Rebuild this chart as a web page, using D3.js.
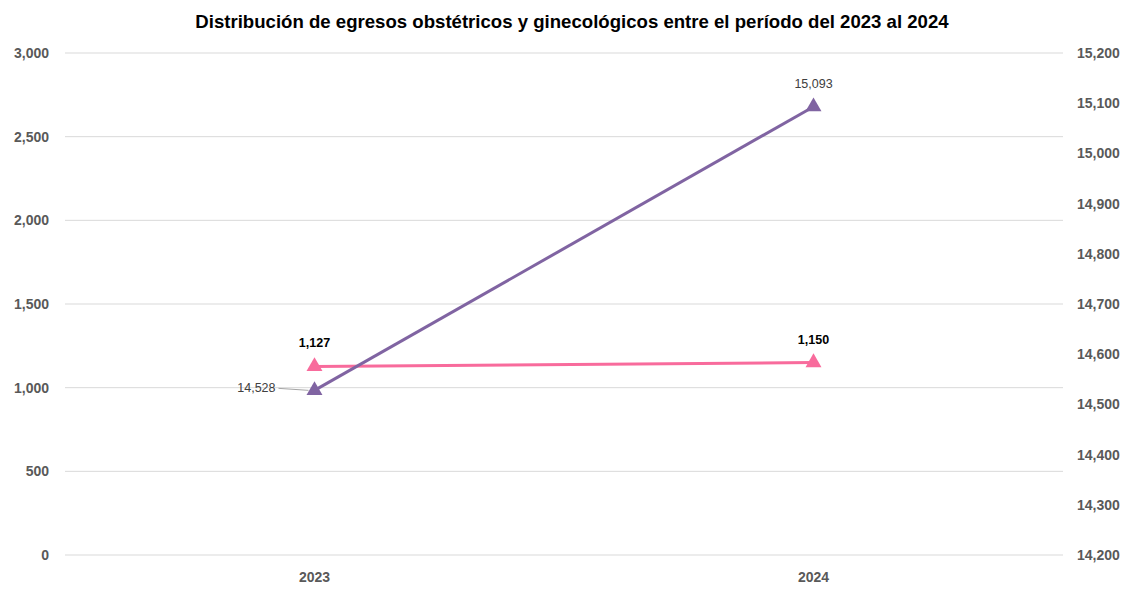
<!DOCTYPE html>
<html>
<head>
<meta charset="utf-8">
<script src="https://cdn.jsdelivr.net/npm/d3@7"></script>
<style>
  body { margin: 0; background: #fff; }
  text { font-family: "Liberation Sans Narrow", "Liberation Sans", sans-serif; }
</style>
</head>
<body>
<svg id="chart" width="1135" height="590"></svg>
<script>
(function () {
    const years = ["2023", "2024"]
    const ginecologicos = [1127, 1150]      // eje izquierdo
    const obstetricos = [14528, 15093]      // eje derecho
    const leftTicks = [0, 500, 1000, 1500, 2000, 2500, 3000]
    const rightTicks = [14200, 14300, 14400, 14500, 14600, 14700, 14800, 14900, 15000, 15100, 15200]

    const svg = d3.select("#chart")
    const fmt = d3.format(",")

    const left = 65, right = 1063, top = 53, bottom = 555

    const x = d3.scaleBand().domain(years).range([left, right])
    const yL = d3.scaleLinear().domain([0, 3000]).range([bottom, top])
    const yR = d3.scaleLinear().domain([14200, 15200]).range([bottom, top])

    //title
    svg.append("text")
        .attr("x", 572).attr("y", 28)
        .attr("text-anchor", "middle")
        .style("font-size", "18.6px").style("font-weight", "bold").style("fill", "#000")
        .text("Distribución de egresos obstétricos y ginecológicos entre el período del 2023 al 2024")

    //gridlines
    svg.append("g").selectAll("line").data(leftTicks).enter().append("line")
        .attr("x1", left).attr("x2", right)
        .attr("y1", d => yL(d)).attr("y2", d => yL(d))
        .style("stroke", "#d9d9d9").style("stroke-width", 1)

    //axes
    const axL = svg.append("g").attr("transform", `translate(${left},0)`)
        .call(d3.axisLeft(yL).tickValues(leftTicks).tickFormat(fmt).tickSize(0).tickPadding(16))
    const axR = svg.append("g").attr("transform", `translate(${right},0)`)
        .call(d3.axisRight(yR).tickValues(rightTicks).tickFormat(fmt).tickSize(0).tickPadding(14))
    const axB = svg.append("g").attr("transform", `translate(0,${bottom})`)
        .call(d3.axisBottom(x).tickSize(0).tickPadding(17))
    ;[axL, axR, axB].forEach(a => {
        a.select(".domain").remove()
        a.selectAll("text").style("font-size", "14px").style("font-weight", "bold").style("fill", "#595959")
    })

    const cx = d => x(d) + x.bandwidth() / 2
    const tri = d3.symbol().type(d3.symbolTriangle).size(110)

    function series(vals, y, color) {
        const pts = years.map((yr, i) => [cx(yr), y(vals[i])])
        svg.append("path").datum(pts)
            .attr("d", d3.line())
            .style("fill", "none").style("stroke", color).style("stroke-width", 3)
        svg.append("g").selectAll("path").data(pts).enter().append("path")
            .attr("d", tri)
            .attr("transform", d => `translate(${d[0]},${d[1]})`)
            .style("fill", color)
        return pts
    }

    const pPts = series(ginecologicos, yL, "#f86b9c")
    const oPts = series(obstetricos, yR, "#8064a2")

    //data labels
    svg.append("g").selectAll("text").data(pPts).enter().append("text")
        .attr("x", d => d[0]).attr("y", d => d[1] - 19)
        .attr("text-anchor", "middle")
        .style("font-size", "12.5px").style("font-weight", "bold").style("fill", "#000")
        .text((d, i) => fmt(ginecologicos[i]))

    //14,528 label with leader line
    svg.append("line")
        .attr("x1", oPts[0][0] - 36).attr("y1", oPts[0][1] - 2)
        .attr("x2", oPts[0][0] - 6).attr("y2", oPts[0][1])
        .style("stroke", "#a6a6a6").style("stroke-width", 1)
    svg.append("text")
        .attr("x", oPts[0][0] - 39).attr("y", oPts[0][1] + 2)
        .attr("text-anchor", "end")
        .style("font-size", "12.5px").style("fill", "#404040")
        .text(fmt(obstetricos[0]))
    svg.append("text")
        .attr("x", oPts[1][0]).attr("y", oPts[1][1] - 19)
        .attr("text-anchor", "middle")
        .style("font-size", "12.5px").style("fill", "#404040")
        .text(fmt(obstetricos[1]))
})();
</script>
</body>
</html>
